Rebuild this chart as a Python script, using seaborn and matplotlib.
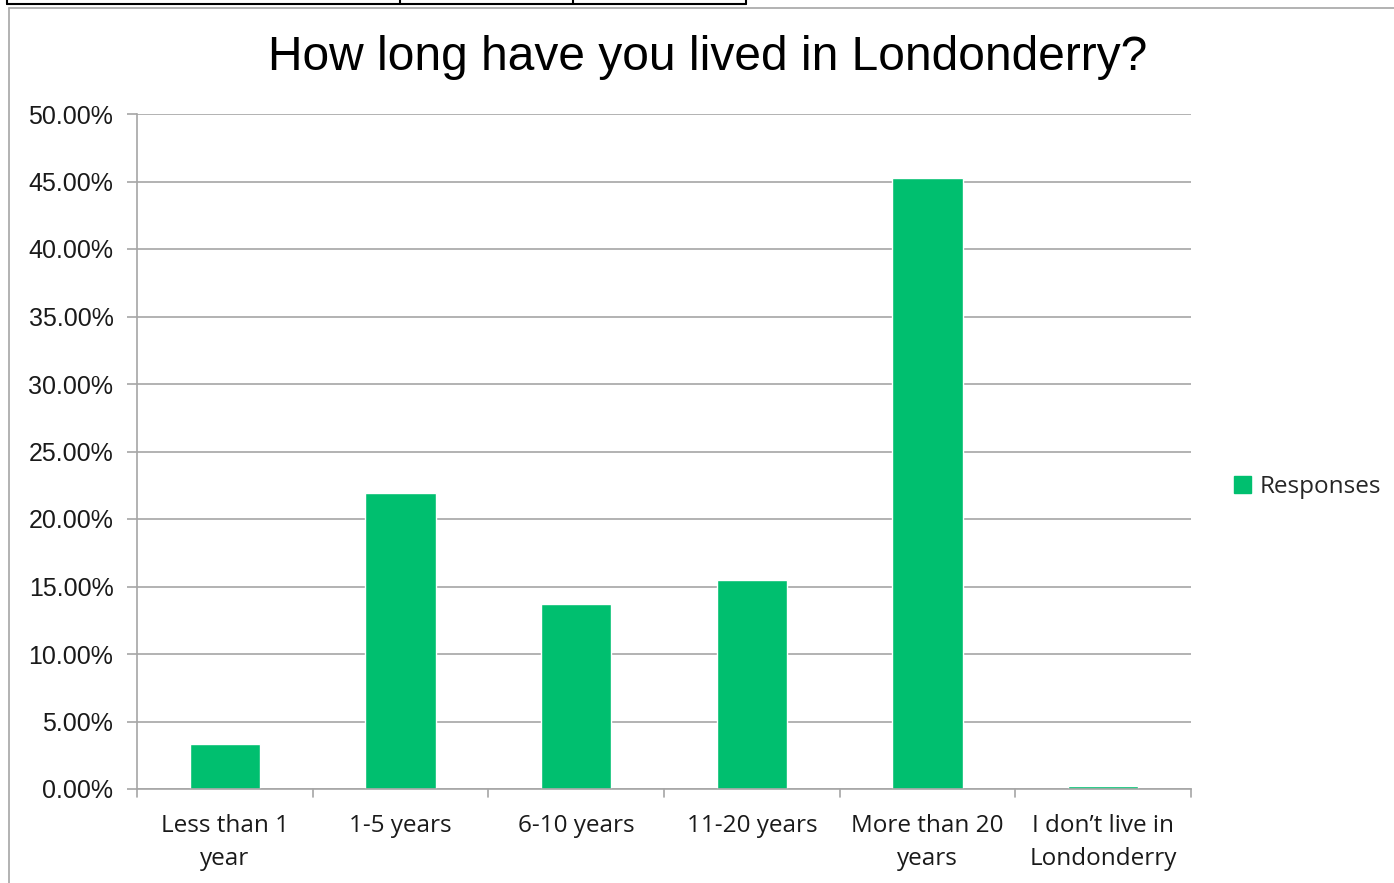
import pandas as pd
import matplotlib.pyplot as plt
import matplotlib.lines as mlines
import matplotlib.patches as mpatches
import seaborn as sns

# survey answers and share of responses (percent)
categories = ["Less than 1\nyear", "1-5 years", "6-10 years", "11-20 years",
              "More than 20\nyears", "I don\u2019t live in\nLondonderry"]
responses = [3.33, 21.93, 13.70, 15.48, 45.26, 0.2]
yticks = [0, 5, 10, 15, 20, 25, 30, 35, 40, 45, 50]

df = pd.DataFrame({"category": categories, "responses": responses})

sns.set_style("white")
plt.rcParams['font.family'] = ['Liberation Sans', 'DejaVu Sans']

W, H = 1394, 883
fig = plt.figure(figsize=(W / 100, H / 100), dpi=100)
ax = fig.add_axes([137 / W, 1 - 789 / H, (1191 - 137) / W, (789 - 114) / H])

green = "#00BF6F"
sns.barplot(data=df, x="category", y="responses", color=green, width=0.4,
            saturation=1, ax=ax)

ax.set_xlim(-0.5, len(categories) - 0.5)
ax.set_ylim(0, 50)
ax.set_yticks(yticks)
ax.set_yticklabels([f"{v:.2f}%" for v in yticks], fontsize=18, color="#1a1a1a")
ax.yaxis.grid(True, color="#a6a6a6", linewidth=1.2)
ax.set_axisbelow(True)
ax.set_xlabel("")
ax.set_ylabel("")

# category labels centred, ticks between categories
ax.set_xticks(range(len(categories)))
ax.set_xticklabels(categories, fontsize=17.5, color="#1a1a1a",
                   family=['Open Sans', 'DejaVu Sans'], linespacing=1.5)
ax.tick_params(axis="x", length=0, pad=18)
ax.tick_params(axis="y", length=7, color="#a6a6a6", width=1.2, left=True, pad=10)
for b in [i - 0.5 for i in range(len(categories) + 1)]:
    ax.plot([b, b], [0, -0.012], transform=ax.get_xaxis_transform(),
            color="#a6a6a6", lw=1.2, clip_on=False)

for s in ["top", "right"]:
    ax.spines[s].set_visible(False)
for s in ["left", "bottom"]:
    ax.spines[s].set_color("#a6a6a6")
    ax.spines[s].set_linewidth(1.2)

fig.text(708 / W, 1 - 58 / H, "How long have you lived in Londonderry?", fontsize=34.5,
         color="black", ha="center", va="center")

handle = mpatches.Patch(color=green, label="Responses")
fig.legend(handles=[handle], loc="center left", bbox_to_anchor=(1212 / W, 1 - 487 / H),
           frameon=False, handlelength=0.7, handleheight=0.7,
           handletextpad=0.35, prop={'family': ['Open Sans', 'DejaVu Sans'], 'size': 17.5})

# bits of the spreadsheet border around the chart
fig.add_artist(mlines.Line2D([9 / W, 9 / W], [0, 1 - 8 / H], color="#a6a6a6", lw=1.2))
fig.add_artist(mlines.Line2D([9 / W, 1], [1 - 8 / H, 1 - 8 / H], color="#a6a6a6", lw=1.2))
fig.add_artist(mlines.Line2D([7 / W, 746 / W], [1 - 4 / H, 1 - 4 / H], color="black", lw=1.5))
for xv in [7, 400, 573, 746]:
    fig.add_artist(mlines.Line2D([xv / W, xv / W], [1 - 4 / H, 1], color="black", lw=1.5))

fig.savefig("out.png", dpi=100)
